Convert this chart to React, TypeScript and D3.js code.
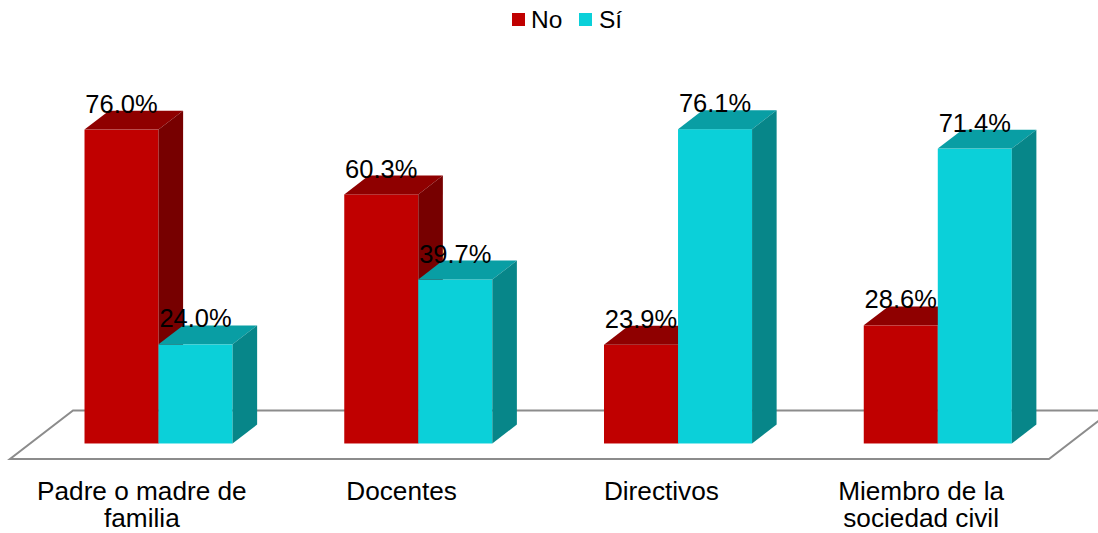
import React from "react";
import * as d3 from "d3";

const categories = ["Padre o madre de familia", "Docentes", "Directivos", "Miembro de la sociedad civil"];
const categoryLines = [["Padre o madre de", "familia"], ["Docentes"], ["Directivos"], ["Miembro de la", "sociedad civil"]];
const seriesNames = ["No", "Sí"];
const noValues = [76.0, 60.3, 23.9, 28.6];
const siValues = [24.0, 39.7, 76.1, 71.4];

const W = 1098, H = 533;
const floorY = 459;
const floorLeft = 10, floorRight = 1049;
const depth: [number, number] = [63, -48.5];
const barFront = 0.32, barDepth = 0.39;
const colors = {
  No: { front: "#C00000", top: "#8F0000", side: "#770000" },
  "Sí": { front: "#0BD0D9", top: "#099EA4", side: "#078689" },
};

export default function App() {
  const x = d3.scaleBand<string>().domain(categories).range([floorLeft, floorRight]).padding(0);
  const bw = x.bandwidth();
  const inner = d3.scaleBand<string>().domain(seriesNames).range([-bw * 0.285, bw * 0.285]).padding(0);
  const fdx = depth[0] * barFront - 1.5, fdy = depth[1] * barFront;
  const ddx = depth[0] * barDepth, ddy = depth[1] * barDepth;
  const baseY = floorY + fdy;
  const y = d3.scaleLinear().domain([0, 100]).range([baseY, baseY - 413]);
  const pts = (a: number[][]) => a.map((p) => p.join(",")).join(" ");

  const bars: any[] = [];
  const labels: any[] = [];
  categories.forEach((c, i) => {
    const cx = (x(c) as number) + bw / 2 + fdx;
    seriesNames.forEach((s, j) => {
      const v = j === 0 ? noValues[i] : siValues[i];
      const x0 = cx + (inner(s) as number);
      const x1 = x0 + inner.bandwidth();
      const yt = y(v);
      const col = (colors as any)[s];
      bars.push(
        <g key={c + s}>
          <rect x={x0} y={yt} width={x1 - x0} height={baseY - yt} fill={col.front} />
          <polygon points={pts([[x0, yt], [x1, yt], [x1 + ddx, yt + ddy], [x0 + ddx, yt + ddy]])} fill={col.top} />
          <polygon points={pts([[x1, yt], [x1 + ddx, yt + ddy], [x1 + ddx, baseY + ddy], [x1, baseY]])} fill={col.side} />
        </g>
      );
      labels.push(
        <text key={"l" + c + s} x={(x0 + x1) / 2} y={yt + ddy + 2} textAnchor="middle" fontSize={25.5} fill="#000">
          {v.toFixed(1) + "%"}
        </text>
      );
    });
  });

  const floor = [
    [floorLeft, floorY],
    [floorRight, floorY],
    [floorRight + depth[0], floorY + depth[1]],
    [floorLeft + depth[0], floorY + depth[1]],
  ];

  return (
    <svg width={W} height={H} style={{ position: "absolute", left: 0, top: 0, fontFamily: "'Liberation Sans', Arial, sans-serif" }}>
      <rect width={W} height={H} fill="#fff" />
      <polygon points={pts(floor)} fill="none" stroke="#8C8C8C" strokeWidth={2} />
      {bars}
      {labels}
      {categories.map((c, i) => (
        <text key={"c" + c} textAnchor="middle" fontSize={26.2} fill="#000">
          {categoryLines[i].map((ln, k) => (
            <tspan key={k} x={(x(c) as number) + bw / 2 + 2} y={500 + k * 27}>{ln}</tspan>
          ))}
        </text>
      ))}
      <g>
        <rect x={512} y={13} width={13} height={13} fill={colors.No.front} />
        <text x={531} y={28} fontSize={24.5}>No</text>
        <rect x={579} y={13} width={13} height={13} fill={colors["Sí"].front} />
        <text x={599} y={28} fontSize={24.5}>Sí</text>
      </g>
    </svg>
  );
}
